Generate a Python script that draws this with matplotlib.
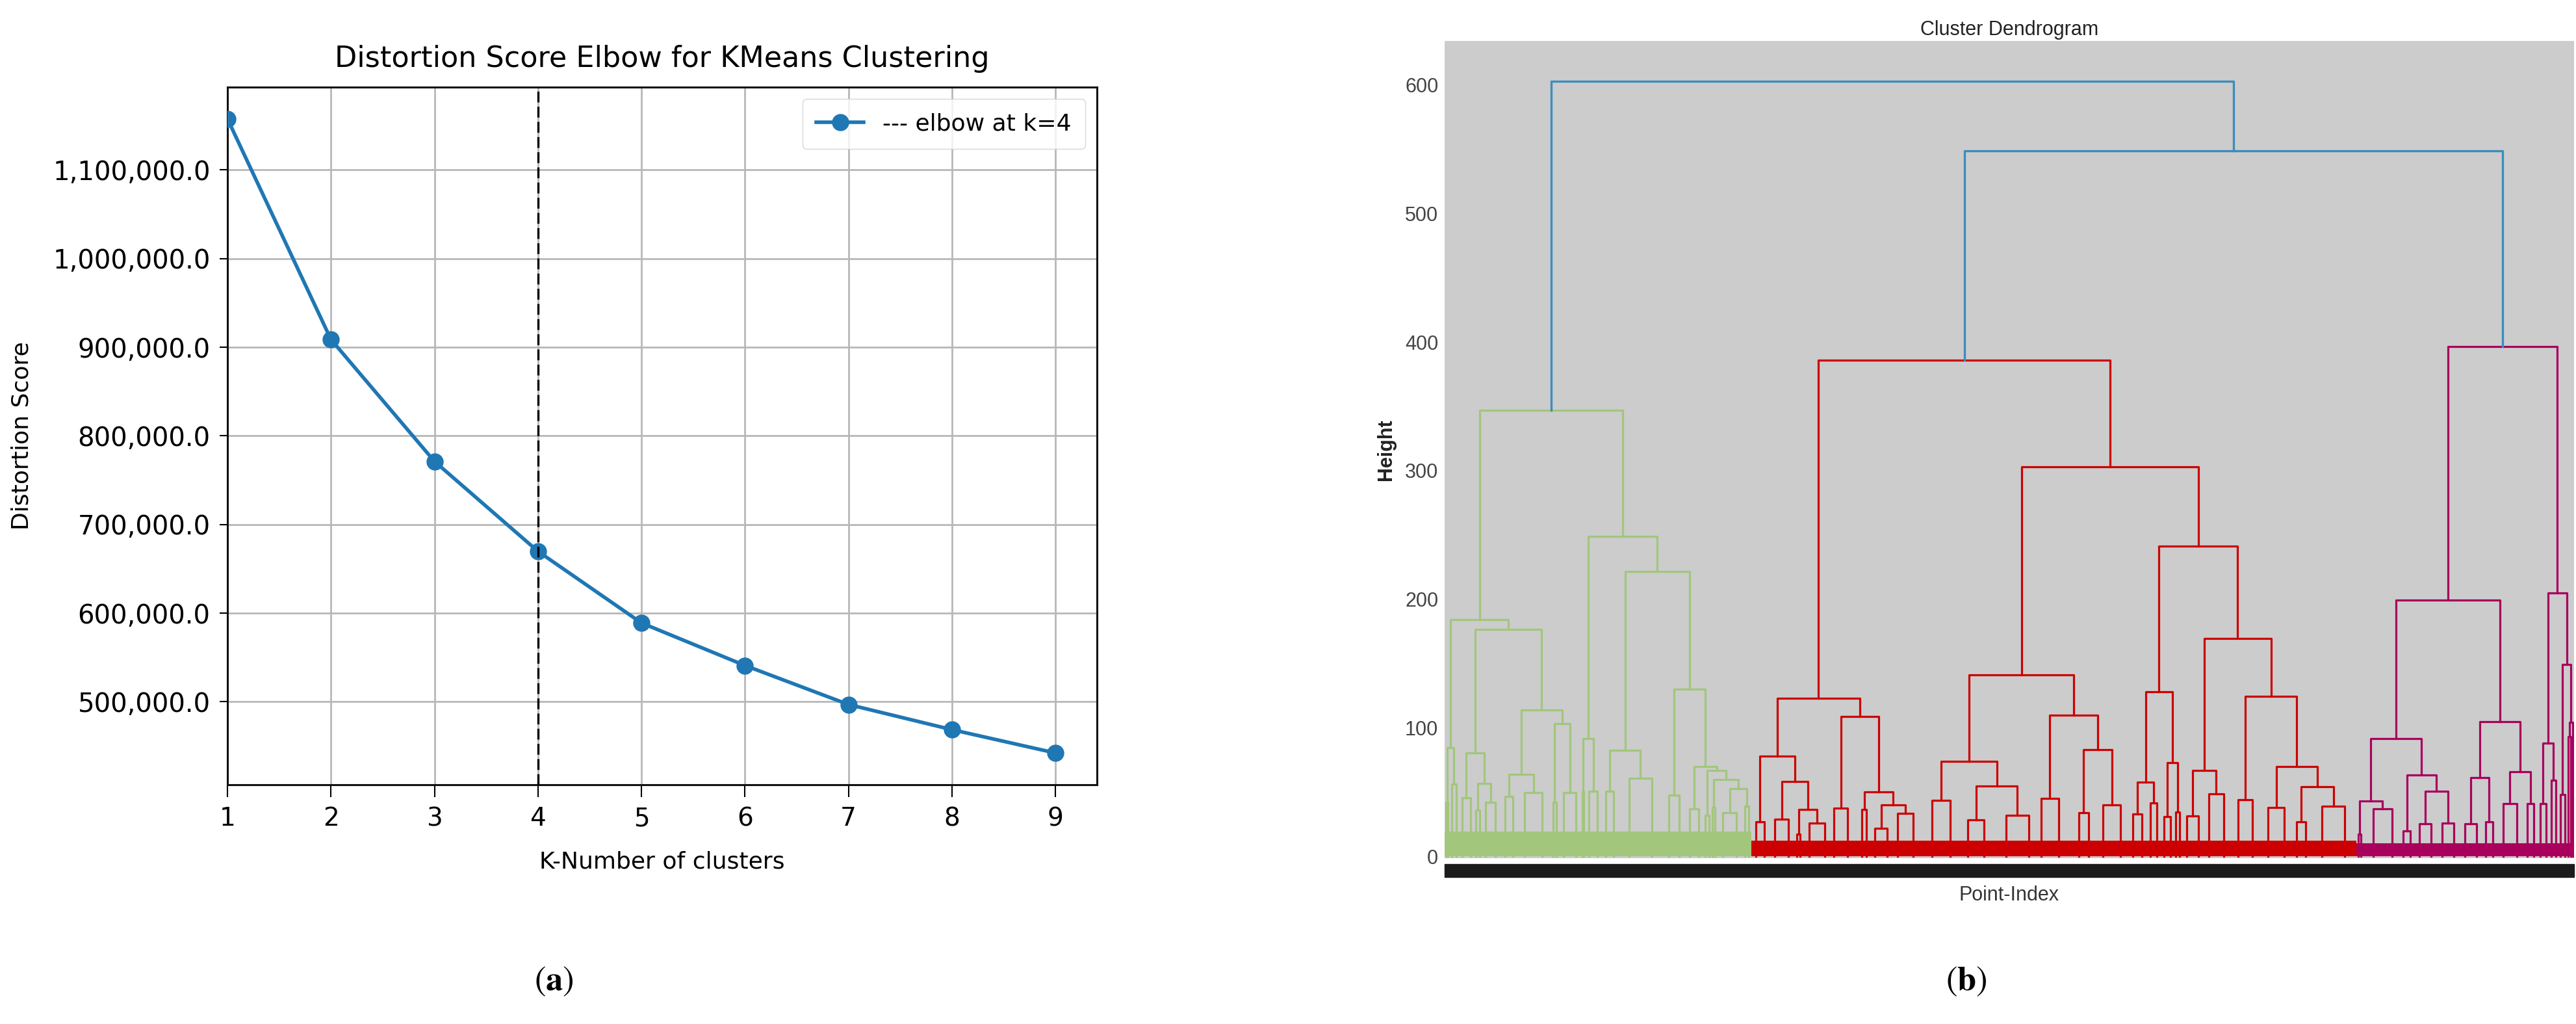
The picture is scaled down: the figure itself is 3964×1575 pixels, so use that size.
import matplotlib
matplotlib.use("Agg")
import matplotlib.pyplot as plt
from matplotlib.ticker import StrMethodFormatter
from matplotlib.patches import Rectangle

plt.rcParams['mathtext.fontset'] = 'stix'

# (a) elbow data
k_values = [1, 2, 3, 4, 5, 6, 7, 8, 9]
distortion = [1157700, 908800, 771300, 669800, 589000, 541000, 497000, 468600, 442300]
elbow_k = 4
y_ticks = [500000, 600000, 700000, 800000, 900000, 1000000, 1100000]

# (b) dendrogram: node = [height, left, right], leaf = number of points
green_tree = [347,
    [184.3,
        [84.7, [42, 2, 2], [56, 4, 4]],
        [176.7,
            [80.7, [45.8, 7, 7], [56.8, [36, 3, 3], [42, 8, 9]]],
            [114,
                [63.7, [46.8, 7, 7], [49.8, 14, 16]],
                [103.2, [41.8, 3, 3], [49.8, 10, 11]]]]],
    [249,
        [91.6, [50.8, 1, 1], [50.8, 8, 7]],
        [221.7,
            [82.7, [50.8, 7, 7], [60.8, 20, 20]],
            [129.9,
                [47.8, 9, 10],
                [69.7,
                    [36.9, 8, 8],
                    [66.7,
                        [31.9, 3, 4],
                        [59.8, [37.8, 2, 2], [52.8, [33.9, 12, 12], [38.8, 2, 5]]]]]]]]]

red_tree = [386,
    [122.9,
        [77.7, [26.9, 7, 8], [58.2, [28.9, 11, 12], [36.3, [17, 3, 3], [26, 13, 14]]]],
        [109, [37.5, 2, 22], [50.2, [36.3, 3, 4], [40.2, [22, 11, 11], [33.5, 7, 20]]]]],
    [302.9,
        [141.4,
            [73.7, [43.4, 13, 19], [54.8, [28.3, 12, 16], [31.9, 22, 18]]],
            [109.6, [45.2, 4, 26], [83, [33.9, 9, 9], [39.8, 16, 14]]]],
        [241.4,
            [128, [57.8, [32.9, 8, 8], [41.4, 6, 6]], [73.1, [30.9, 6, 6], [34.3, 3, 3]]],
            [169.3,
                [66.7, [31.5, 10, 10], [48.4, 9, 16]],
                [124.5, [44.2, 10, 14],
                    [69.7, [37.8, 14, 14], [54.2, [26.9, 8, 8], [38.8, 20, 20]]]]]]]]

magenta_tree = [396.4,
    [199.2,
        [91.6,
            [42.9, [17, 3, 2], [36.7, 19, 14]],
            [63.4, [19.9, 6, 6], [50.8, [25.5, 10, 10], [26, 10, 10]]]],
        [104.8, [61.2, [25.5, 10, 10], [27, 6, 6]], [65.7, [41, 12, 12], [41, 6, 6]]]],
    [204.8,
        [88.2, [41, 5, 5], [59.2, 4, 4]],
        [149.2, [48, 4, 4], [104, [93, 2, 2], 2]]]]

cluster_trees = [green_tree, red_tree, magenta_tree]
cluster_colors = ['#a2c67c', '#cc0000', '#a8005c']
band_heights = [19, 12, 10]         # dense mass of low merges near 0
top_merges = [549, 603]             # red+magenta, then green+rest
top_color = '#3a8dbf'
dend_ticks = [0, 100, 200, 300, 400, 500, 600]


def draw_tree(ax, node, start, color):
    if isinstance(node, int):
        return start + node / 2, 0, start + node
    h, left, right = node
    xl, hl, end = draw_tree(ax, left, start, color)
    xr, hr, end = draw_tree(ax, right, end, color)
    ax.plot([xl, xl, xr, xr], [hl, h, h, hr], color=color, lw=2.3, zorder=3)
    return (xl + xr) / 2, h, end


fig = plt.figure(figsize=(39.64, 15.75), dpi=100)

# ---------- (a) elbow ----------
ax1 = fig.add_axes([0.0883, 0.2337, 0.3375, 0.6812])
ax1.plot(k_values, distortion, '-o', color='#1f77b4', lw=4.0, ms=18,
         label='--- elbow at k=%d' % elbow_k, zorder=3)
ax1.axvline(elbow_k, color='black', lw=2.4, linestyle=(0, (5, 2)), zorder=4)
ax1.set_xlim(1, 9.4)
ax1.set_xticks(k_values)
ax1.set_yticks(y_ticks)
ax1.yaxis.set_major_formatter(StrMethodFormatter('{x:,.1f}'))
ax1.grid(True, color='#b8b8b8', lw=2.0)
ax1.set_axisbelow(True)
for s in ax1.spines.values():
    s.set_linewidth(2.2)
    s.set_color('#111111')
ax1.tick_params(axis='x', labelsize=28, length=14, width=1.5, pad=10)
ax1.tick_params(axis='y', labelsize=29, length=9, width=1.5, pad=10)
ax1.set_title('Distortion Score Elbow for KMeans Clustering', fontsize=32, pad=22)
ax1.set_xlabel('K-Number of clusters', fontsize=26, labelpad=22)
ax1.set_ylabel('Distortion Score', fontsize=26, labelpad=22)
ax1.legend(loc='upper right', fontsize=26, handlelength=2.0, borderpad=0.6)

# ---------- (b) dendrogram ----------
ax2 = fig.add_axes([0.5608, 0.1619, 0.4384, 0.7984])
ax2.set_facecolor('#cccccc')
start = 0
stems = []
for tree, col, band in zip(cluster_trees, cluster_colors, band_heights):
    x, h, end = draw_tree(ax2, tree, start, col)
    ax2.fill_between([start, end], 0, band, color=col, lw=0, zorder=2)
    stems.append((x, h))
    start = end

# blue links joining the three clusters
(xg, hg), (xr, hr), (xm, hm) = stems
ax2.plot([xr, xr, xm, xm], [hr, top_merges[0], top_merges[0], hm], color=top_color, lw=2.4, zorder=3)
x2 = (xr + xm) / 2
ax2.plot([xg, xg, x2, x2], [hg, top_merges[1], top_merges[1], top_merges[0]], color=top_color, lw=2.4, zorder=3)

ax2.set_xlim(0, start)
ax2.set_ylim(-1.5, 634.6)
for s in ax2.spines.values():
    s.set_visible(False)
ax2.set_xticks([])
ax2.set_yticks(dend_ticks)
ax2.tick_params(axis='y', length=0, pad=7, labelsize=22, labelcolor='#444444')
for lab in ax2.get_yticklabels():
    lab.set_family('Liberation Sans')
ax2.set_title('Cluster Dendrogram', fontsize=22, family='Liberation Sans', color='#222222', pad=6)
ax2.set_ylabel('Height', fontsize=22, family='Liberation Sans', fontweight='bold',
               color='#222222', labelpad=10)
ax2.set_xlabel('Point-Index', fontsize=22, family='Liberation Sans', color='#333333', labelpad=30)
# overplotted leaf labels form a dark strip under the axis
ax2.add_patch(Rectangle((0, -0.023), 1, 0.016, transform=ax2.transAxes,
                        color='#1c1c1c', clip_on=False))

# panel captions
fig.text(852 / 3964, 1 - 1509 / 1575, r'$(\mathbf{a})$', fontsize=38, ha='center', va='center')
fig.text(3026 / 3964, 1 - 1509 / 1575, r'$(\mathbf{b})$', fontsize=38, ha='center', va='center')

fig.savefig('out.png', dpi=100)
